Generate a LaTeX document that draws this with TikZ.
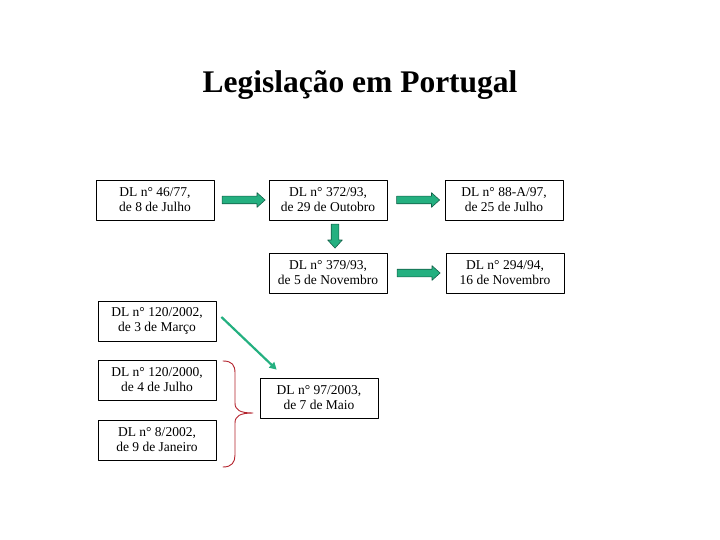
\documentclass[tikz,border=0pt]{standalone}
\usepackage{fontspec}
\setmainfont{Liberation Serif}
\usetikzlibrary{shapes.arrows,arrows.meta,calc}
\definecolor{setaverde}{RGB}{36,176,128}
\definecolor{setaborda}{RGB}{20,96,72}
\definecolor{chaveverm}{RGB}{180,35,45}
\begin{document}
\begin{tikzpicture}[x=1pt, y=-1pt, font=\fontsize{13.5}{15}\selectfont, line join=round, line cap=round,
	dl/.style={draw, line width=0.8pt, fill=white, minimum width=118pt, minimum height=40pt, inner sep=0pt, align=center},
	seta/.style={single arrow, draw=setaborda, fill=setaverde, line width=0.6pt, text height=3.5pt, text depth=3.5pt, text width=0pt, single arrow head extend=3.5pt, single arrow tip angle=84, inner sep=0pt}]
	\fill[white] (0,0) rectangle (720,540);
	\useasboundingbox (0,0) rectangle (720,540);
	% ==========================================
	\node[font=\fontsize{31.5}{36}\selectfont\bfseries, anchor=base] (titulo) at (360,93) {Legislação em Portugal};
	% primeira linha
	\node[dl] (dl4677) at (155,200) {DL n° 46/77,\\ de 8 de Julho};
	\node[dl] (dl37293) at (328,200) {DL n° 372/93,\\ de 29 de Outobro};
	\node[dl] (dl88a97) at (504,200) {DL n° 88-A/97,\\ de 25 de Julho};
	% segunda linha
	\node[dl] (dl37993) at (328,273) {DL n° 379/93,\\ de 5 de Novembro};
	\node[dl] (dl29494) at (505,273) {DL n° 294/94,\\ 16 de Novembro};
	% coluna da esquerda
	\node[dl] (dl1202002) at (157,321) {DL n° 120/2002,\\ de 3 de Março};
	\node[dl] (dl1202000) at (157,380) {DL n° 120/2000,\\ de 4 de Julho};
	\node[dl] (dl82002) at (157,440) {DL n° 8/2002,\\ de 9 de Janeiro};
	\node[dl] (dl972003) at (319,398) {DL n° 97/2003,\\ de 7 de Maio};
	% ==========================================
	% setas
	\node[seta, minimum height=43pt] (s1) at ($(dl4677.east)!0.5!(dl37293.west)$) {};
	\node[seta, minimum height=43pt] (s2) at ($(dl37293.east)!0.5!(dl88a97.west)$) {};
	\node[seta, minimum height=43pt] (s3) at ($(dl37993.east)!0.5!(dl29494.west)$) {};
	\node[seta, minimum height=24pt, text width=7pt, text height=0pt, text depth=0pt, shape border rotate=270, xshift=7pt, yshift=2.5pt] (s4) at ($(dl37293.south)!0.5!(dl37993.north)$) {};
	\draw[setaverde, line width=2.2pt, line cap=butt, -{Triangle[length=7pt,width=7.5pt]}] ([shift={(5,-4)}]dl1202002.east) -- ([shift={(17,-8)}]dl972003.north west);
	% chaveta
	\draw[chaveverm, line width=0.9pt] (223,361) .. controls (232,361) and (235,365) .. (235,373) -- (235,403) .. controls (235,410) and (240,413) .. (253,413) .. controls (240,413) and (235,416) .. (235,423) -- (235,455) .. controls (235,462) and (232,467) .. (223,467);
\end{tikzpicture}
\end{document}
